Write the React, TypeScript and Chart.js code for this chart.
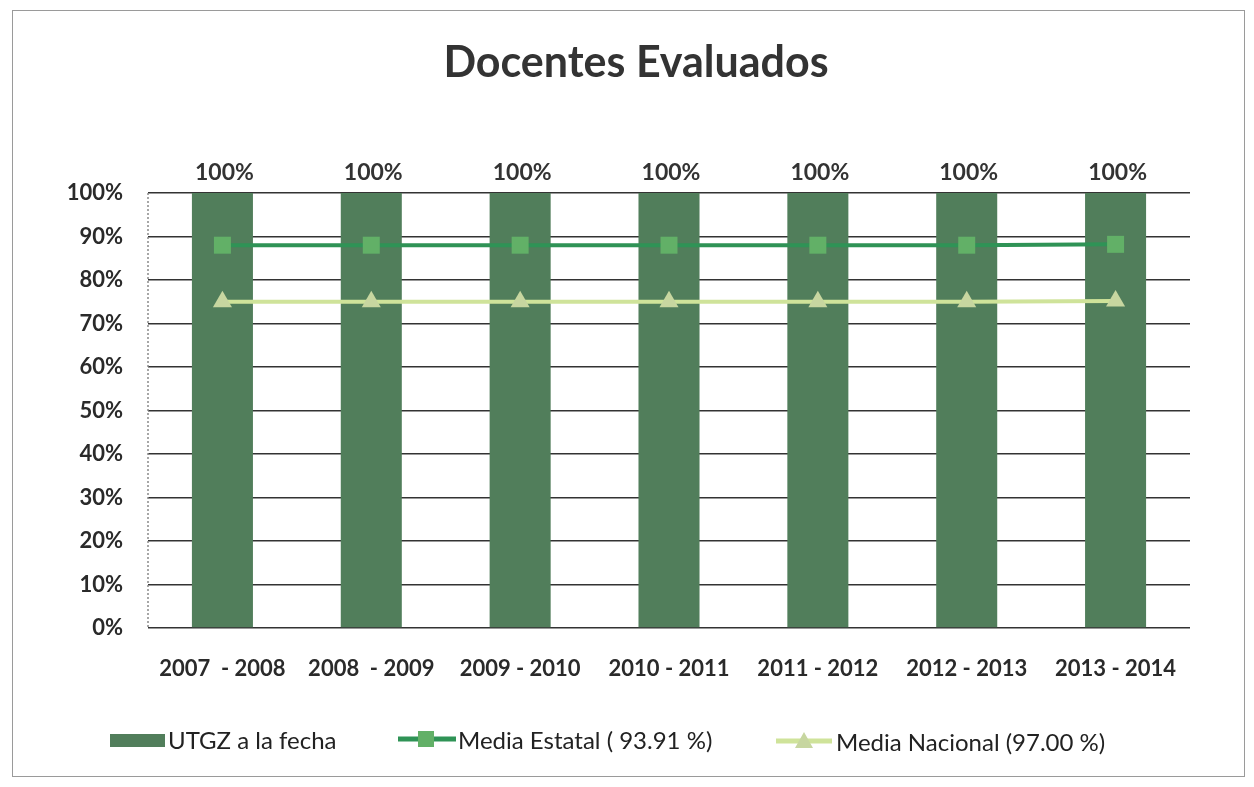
import React, { useEffect, useRef } from "react";
import { Chart, registerables } from "chart.js";

Chart.register(...registerables);

const title = "Docentes Evaluados";
const categories = ["2007  - 2008", "2008  - 2009", "2009 - 2010", "2010 - 2011", "2011 - 2012", "2012 - 2013", "2013 - 2014"];
const utgzValues = [100, 100, 100, 100, 100, 100, 100];
const estatalValues = [88, 88, 88, 88, 88, 88, 88.2];
const nacionalValues = [75, 75, 75, 75, 75, 75, 75.2];
const yTicks = [0, 10, 20, 30, 40, 50, 60, 70, 80, 90, 100];
const seriesNames = ["UTGZ a la fecha", "Media Estatal ( 93.91 %)", "Media Nacional (97.00 %)"];

const BAR = "#517e5b";
const EST_LINE = "#2f9356";
const EST_MARK = "#62b067";
const NAC_LINE = "#cfe39a";
const NAC_MARK = "#c7d6a0";
const FONT = "Lato, 'Open Sans', sans-serif";

const decorPlugin = {
  id: "decor",
  beforeDatasetsDraw(chart: any) {
    const ctx = chart.ctx;
    const a = chart.chartArea;
    ctx.save();
    ctx.strokeStyle = "#8a8a8a";
    ctx.lineWidth = 1.5;
    ctx.setLineDash([2, 2]);
    ctx.beginPath();
    ctx.moveTo(a.left, a.top);
    ctx.lineTo(a.left, a.bottom);
    ctx.stroke();
    ctx.restore();
  },
  afterDraw(chart: any) {
    const ctx = chart.ctx;
    ctx.save();
    // frame
    ctx.strokeStyle = "#9a9a9a";
    ctx.lineWidth = 1;
    ctx.strokeRect(12.5, 10.5, 1232, 766);
    // title
    ctx.fillStyle = "#333";
    ctx.font = `bold 43px ${FONT}`;
    ctx.textAlign = "center";
    ctx.textBaseline = "middle";
    ctx.fillText(title, 636, 63);
    // data labels
    const meta = chart.getDatasetMeta(0);
    ctx.font = `bold 23px ${FONT}`;
    ctx.fillStyle = "#333";
    meta.data.forEach((el: any, i: number) => {
      ctx.fillText(`${utgzValues[i]}%`, el.x + 2, el.y - 20);
    });
    // legend
    const ly = 741;
    ctx.font = `24px ${FONT}`;
    ctx.textAlign = "left";
    ctx.fillStyle = BAR;
    ctx.fillRect(110, ly - 7, 55, 13);
    ctx.fillStyle = "#222";
    ctx.fillText(seriesNames[0], 168, ly);
    // estatal
    ctx.strokeStyle = EST_LINE;
    ctx.lineWidth = 5;
    ctx.beginPath();
    ctx.moveTo(398, ly - 2);
    ctx.lineTo(456, ly - 2);
    ctx.stroke();
    ctx.fillStyle = EST_MARK;
    ctx.fillRect(418, ly - 10, 16, 16);
    ctx.fillStyle = "#222";
    ctx.fillText(seriesNames[1], 458, ly);
    // nacional
    ctx.strokeStyle = NAC_LINE;
    ctx.beginPath();
    ctx.moveTo(776, ly);
    ctx.lineTo(832, ly);
    ctx.stroke();
    ctx.fillStyle = NAC_MARK;
    ctx.beginPath();
    ctx.moveTo(804, ly - 9);
    ctx.lineTo(813, ly + 7);
    ctx.lineTo(795, ly + 7);
    ctx.closePath();
    ctx.fill();
    ctx.fillStyle = "#222";
    ctx.fillText(seriesNames[2], 836, ly + 2);
    ctx.restore();
  },
};

export default function App() {
  const ref = useRef<HTMLCanvasElement>(null);
  useEffect(() => {
    if (!ref.current) return;
    const chart = new Chart(ref.current, {
      type: "bar",
      data: {
        labels: categories,
        datasets: [
          {
            type: "bar",
            label: seriesNames[0],
            data: utgzValues,
            backgroundColor: BAR,
            barPercentage: 0.82,
            categoryPercentage: 0.5,
            order: 3,
          },
          {
            type: "line",
            label: seriesNames[1],
            data: estatalValues,
            borderColor: EST_LINE,
            borderWidth: 4,
            pointStyle: "rect",
            pointRadius: 12,
            pointBackgroundColor: EST_MARK,
            pointBorderWidth: 0,
            order: 1,
          },
          {
            type: "line",
            label: seriesNames[2],
            data: nacionalValues,
            borderColor: NAC_LINE,
            borderWidth: 4,
            pointStyle: "triangle",
            pointRadius: 11,
            pointBackgroundColor: NAC_MARK,
            pointBorderWidth: 0,
            order: 2,
          },
        ] as any,
      },
      options: {
        animation: false,
        responsive: false,
        layout: { padding: { top: 193, left: 0, right: 64, bottom: 99 } },
        plugins: {
          legend: { display: false },
          title: { display: false },
          tooltip: { enabled: false },
        },
        scales: {
          x: {
            grid: { display: false },
            border: { display: false },
            ticks: {
              color: "#2a2a2a",
              font: { family: FONT, size: 22, weight: "bold" },
              padding: 20,
            },
            afterFit: (s: any) => {
              s.height = 60;
            },
          },
          y: {
            min: 0,
            max: 100,
            afterBuildTicks: (s: any) => {
              s.ticks = yTicks.map((v) => ({ value: v }));
            },
            grid: { color: "#333", lineWidth: 1.5, drawTicks: false },
            border: { display: false },
            ticks: {
              color: "#2a2a2a",
              font: { family: FONT, size: 22, weight: "bold" },
              padding: 25,
              callback: (v: any) => `${v}%`,
            },
            afterFit: (s: any) => {
              s.width = 148;
            },
          },
        },
      },
      plugins: [decorPlugin],
    });
    return () => chart.destroy();
  }, []);
  return (
    <div style={{ position: "absolute", left: 0, top: 0, width: 1254, height: 787, background: "#fff" }}>
      <canvas ref={ref} width={1254} height={787} />
    </div>
  );
}
